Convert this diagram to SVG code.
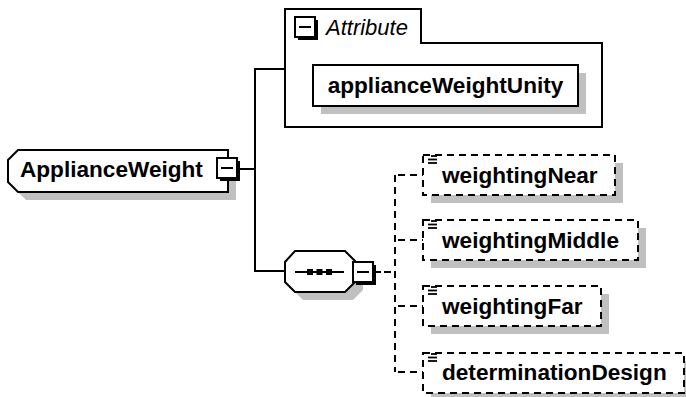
<svg xmlns="http://www.w3.org/2000/svg" width="686" height="397" viewBox="0 0 686 397">
<style>
.ln{fill:none;stroke:#000;stroke-width:2}
.dl{fill:none;stroke:#000;stroke-width:2;stroke-dasharray:7 5}
.box{fill:#fff;stroke:#000;stroke-width:2}
.dbox{fill:#fff;stroke:#000;stroke-width:2;stroke-dasharray:7 5}
.sh{fill:#c0c0c0}
.t{font-family:"Liberation Sans",Arial,sans-serif;font-size:22.6px;font-weight:bold;fill:#000}
.ti{font-family:"Liberation Sans",Arial,sans-serif;font-size:22px;font-style:italic;fill:#000}
.ic{stroke:#000;stroke-width:1.8}
</style>
<defs>
<g id="minus">
<rect x="3" y="3" width="20" height="20" fill="#000"/>
<rect x="0" y="0" width="20" height="20" fill="#fff" stroke="#000" stroke-width="2"/>
<line x1="4" y1="10" x2="16" y2="10" stroke="#000" stroke-width="2"/>
</g>
<g id="lines">
<line x1="8" y1="1" x2="14" y2="1" class="ic"/>
<line x1="5" y1="4.5" x2="14" y2="4.5" class="ic"/>
<line x1="5" y1="8" x2="14" y2="8" class="ic"/>
</g>
</defs>
<g id="connectors">
<polyline class="ln" points="240,169 255,169"/>
<polyline class="ln" points="285,69 255,69 255,271 285,271"/>
<polyline class="ln" points="376,272 381,272"/>
<polyline class="dl" points="384,272 395,272"/>
<polyline class="dl" points="395,175 395,372"/>
<polyline class="dl" points="398,175 423,175"/>
<polyline class="dl" points="398,240 423,240"/>
<polyline class="dl" points="398,306 423,306"/>
<polyline class="dl" points="398,372 423,372"/>
</g>
<g id="ApplianceWeight">
<polygon class="sh" points="26,158 236,158 236,200 26,200 16,190 16,168"/>
<polygon class="box" points="18,150 228,150 228,192 18,192 8,182 8,160"/>
<text class="t" x="20" y="177">ApplianceWeight</text>
<use href="#minus" x="217" y="158"/>
</g>
<g id="Attribute">
<polygon class="ln" points="285,9 421,9 421,43 602,43 602,127 285,127"/>
<use href="#minus" x="295" y="17"/>
<text class="ti" x="326" y="35">Attribute</text>
</g>
<g id="applianceWeightUnity">
<rect class="sh" x="321" y="73" width="265" height="41"/>
<rect class="box" x="313" y="65" width="265" height="41"/>
<text class="t" x="445.5" y="93" text-anchor="middle">applianceWeightUnity</text>
</g>
<g id="sequence">
<polygon class="sh" points="303,259 353,259 363,269 363,290 353,300 303,300 293,290 293,270"/>
<polygon class="box" points="295,251 345,251 355,261 355,282 345,292 295,292 285,282 285,262"/>
<line class="ln" x1="295" y1="272" x2="344" y2="272"/>
<rect x="307" y="269" width="6" height="6" fill="#000"/>
<rect x="316.5" y="269" width="6" height="6" fill="#000"/>
<rect x="326" y="269" width="6" height="6" fill="#000"/>
<use href="#minus" x="353" y="262"/>
</g>
<g id="weightingNear">
<rect class="sh" x="431" y="163" width="192" height="40"/>
<rect class="dbox" x="423" y="155" width="192" height="40"/>
<use href="#lines" x="423" y="155"/>
<text class="t" x="442" y="183">weightingNear</text>
</g>
<g id="weightingMiddle">
<rect class="sh" x="431" y="228" width="215" height="40"/>
<rect class="dbox" x="423" y="220" width="215" height="40"/>
<use href="#lines" x="423" y="220"/>
<text class="t" x="442" y="248">weightingMiddle</text>
</g>
<g id="weightingFar">
<rect class="sh" x="431" y="294" width="178" height="40"/>
<rect class="dbox" x="423" y="286" width="178" height="40"/>
<use href="#lines" x="423" y="286"/>
<text class="t" x="442" y="314">weightingFar</text>
</g>
<g id="determinationDesign">
<rect class="sh" x="431" y="361" width="261" height="40"/>
<rect class="dbox" x="423" y="353" width="261" height="40"/>
<use href="#lines" x="423" y="353"/>
<text class="t" x="442" y="380">determinationDesign</text>
</g>
</svg>
